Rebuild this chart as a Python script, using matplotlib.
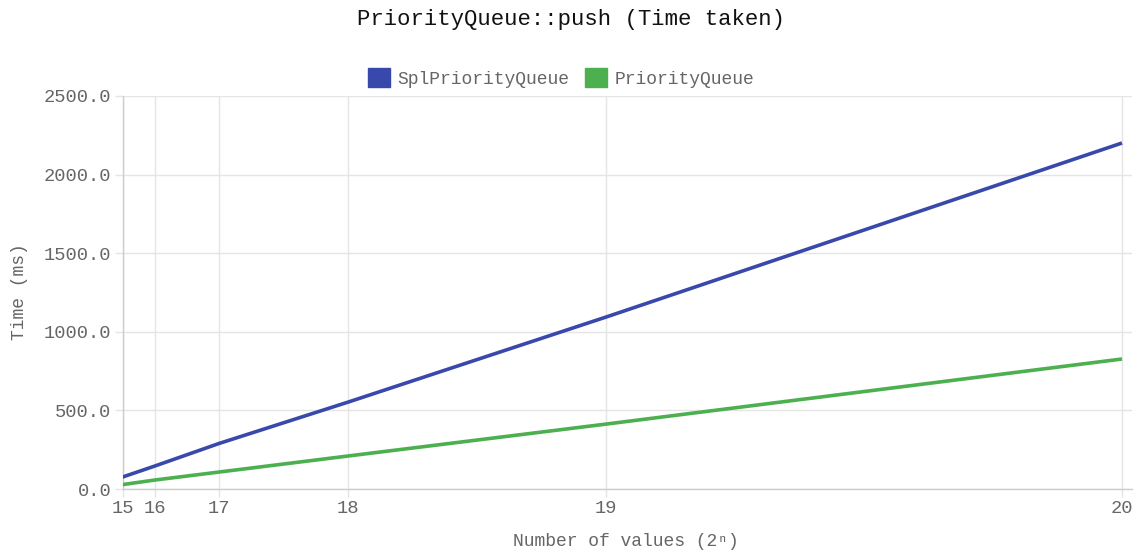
import matplotlib.pyplot as plt
from matplotlib.patches import Patch
from matplotlib.ticker import FixedLocator, FixedFormatter

# exponent n, the sample size is 2**n
exponents = [15, 16, 17, 18, 19, 20]
spl_pq_ms = [76, 146, 290, 553, 1094, 2201]
pq_ms = [28, 57, 108, 210, 413, 827]

y_ticks = [0, 500, 1000, 1500, 2000, 2500]

BLUE = "#3949AB"
GREEN = "#4CAF50"
GRID = "#e5e5e5"
TEXT = "#666666"
MONO = ["Liberation Mono", "DejaVu Sans Mono"]

sizes = [2 ** n for n in exponents]

W, H = 1139, 551
fig = plt.figure(figsize=(W / 100, H / 100), dpi=100)
ax = fig.add_axes([122.5 / W, 1 - 489 / H, (1132 - 122.5) / W, (489 - 96) / H])

ax.plot(sizes, spl_pq_ms, color=BLUE, lw=2.6, solid_capstyle="butt", zorder=3)
ax.plot(sizes, pq_ms, color=GREEN, lw=2.6, solid_capstyle="butt", zorder=3)

span = sizes[-1] - sizes[0]
ax.set_xlim(sizes[0], sizes[-1] + span * 10 / 1000)
ax.set_ylim(0, 2500)

ax.xaxis.set_major_locator(FixedLocator(sizes))
ax.xaxis.set_major_formatter(FixedFormatter([str(n) for n in exponents]))
ax.yaxis.set_major_locator(FixedLocator(y_ticks))
ax.yaxis.set_major_formatter(FixedFormatter([f"{v:.1f}" for v in y_ticks]))

ax.grid(True, color=GRID, lw=1)
ax.set_axisbelow(True)
ax.tick_params(length=6, width=1, color=GRID, labelcolor=TEXT, labelsize=13.5, pad=2)
for lbl in ax.get_xticklabels() + ax.get_yticklabels():
    lbl.set_family(MONO)

for side in ("top", "right"):
    ax.spines[side].set_visible(False)
for side in ("left", "bottom"):
    ax.spines[side].set_color("#cccccc")
    ax.spines[side].set_linewidth(1)

ax.set_xlabel("Number of values (2ⁿ)", family=MONO, color=TEXT, fontsize=13)
ax.set_ylabel("Time (ms)", family=MONO, color=TEXT, fontsize=13)
ax.xaxis.set_label_coords((626 - 122.5) / (1132 - 122.5), -(542 - 489) / (489 - 96))
ax.yaxis.set_label_coords(-(122.5 - 20) / (1132 - 122.5), (489 - 292) / (489 - 96))
ax.xaxis.label.set_va("center")
ax.yaxis.label.set_va("center")

fig.text(571 / W, 1 - 20 / H, "PriorityQueue::push (Time taken)", ha="center", va="center",
         family=MONO, fontsize=16, color="#111111")

handles = [Patch(facecolor=BLUE, edgecolor=BLUE), Patch(facecolor=GREEN, edgecolor=GREEN)]
fig.legend(handles, ["SplPriorityQueue", "PriorityQueue"], loc="center",
           bbox_to_anchor=(561 / W, 1 - 78 / H), ncol=2, frameon=False,
           prop={"family": MONO, "size": 13}, labelcolor=TEXT,
           handlelength=1.2, handleheight=1.2, handletextpad=0.4, columnspacing=0.9)

fig.savefig("out.png", dpi=100)
